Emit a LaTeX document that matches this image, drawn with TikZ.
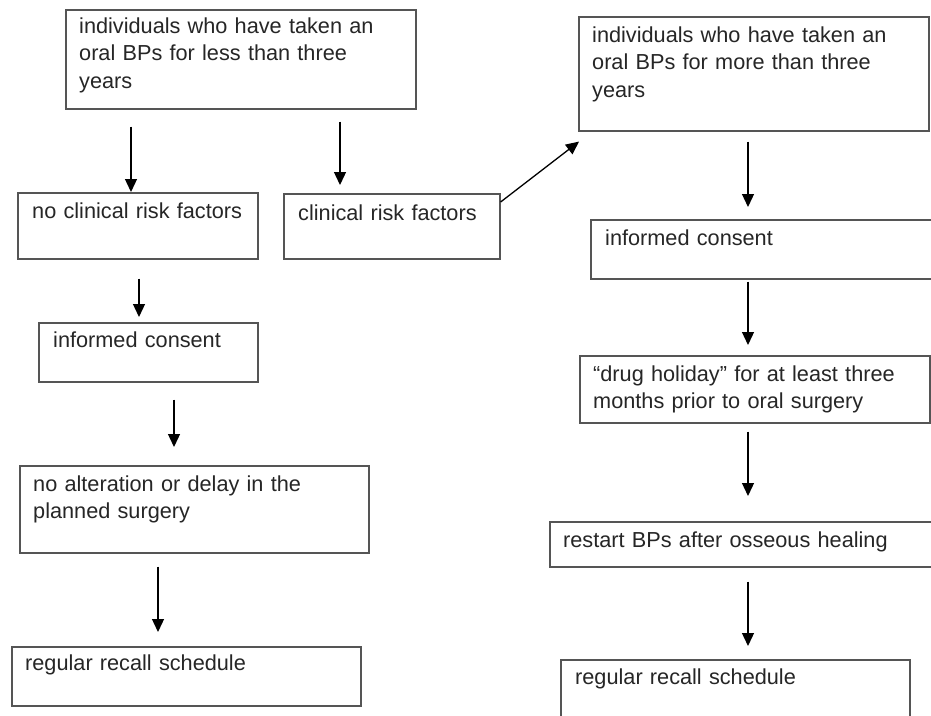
\documentclass[tikz,border=0pt]{standalone}
\usepackage{fontspec}
\setmainfont{Liberation Sans}
\usetikzlibrary{arrows.meta}
\definecolor{boxgray}{HTML}{555555}
\definecolor{txtgray}{HTML}{262626}
\begin{document}
\begin{tikzpicture}[x=1pt, y=-1pt,
    box/.style={draw=boxgray, line width=1.6pt, anchor=north west, inner sep=0pt},
    txt/.style={anchor=base west, align=left, text width=340pt, inner sep=0pt,
        text=txtgray, font=\fontsize{21.7}{27.5}\selectfont},
    arr/.style={line width=1.3pt, -{Triangle[length=13pt,width=12pt]}}]
        % Cadre
        \fill[white] (0,0) rectangle (931,715);
        \clip (0,0) rectangle (931,715);
        % Moins de trois ans
        \node[box, minimum width=350pt, minimum height=99pt] (lessthree) at (65,9) {};
        \node[txt] (lessthree-t) at ([shift={(14pt,-24pt)}]lessthree.north west)
            {individuals who have taken an\\ oral BPs for less than three\\ years};
        % Pas de facteurs de risque
        \node[box, minimum width=240pt, minimum height=66pt] (nocrf) at (17,192) {};
        \node[txt] (nocrf-t) at ([shift={(15pt,-26pt)}]nocrf.north west) {no clinical risk factors};
        % Facteurs de risque
        \node[box, minimum width=216pt, minimum height=65pt] (crf) at (283,193) {};
        \node[txt] (crf-t) at ([shift={(15pt,-27pt)}]crf.north west) {clinical risk factors};
        % Plus de trois ans
        \node[box, minimum width=350pt, minimum height=114pt] (morethree) at (578,16) {};
        \node[txt] (morethree-t) at ([shift={(14pt,-26pt)}]morethree.north west)
            {individuals who have taken an\\ oral BPs for more than three\\ years};
        % Consentement (gauche)
        \node[box, minimum width=219pt, minimum height=59pt] (consentL) at (38,322) {};
        \node[txt] (consentL-t) at ([shift={(15pt,-25pt)}]consentL.north west) {informed consent};
        % Chirurgie prevue
        \node[box, minimum width=349pt, minimum height=87pt] (noalt) at (19,465) {};
        \node[txt] (noalt-t) at ([shift={(14pt,-26pt)}]noalt.north west)
            {no alteration or delay in the\\ planned surgery};
        % Suivi (gauche)
        \node[box, minimum width=349pt, minimum height=59pt] (recallL) at (11,646) {};
        \node[txt] (recallL-t) at ([shift={(14pt,-24pt)}]recallL.north west) {regular recall schedule};
        % Consentement (droite)
        \node[box, minimum width=360pt, minimum height=59pt] (consentR) at (590,219) {};
        \node[txt] (consentR-t) at ([shift={(15pt,-26pt)}]consentR.north west) {informed consent};
        % Pause
        \node[box, minimum width=350pt, minimum height=67pt] (drug) at (579,355) {};
        \node[txt] (drug-t) at ([shift={(14pt,-26pt)}]drug.north west)
            {``drug holiday'' for at least three\\ months prior to oral surgery};
        % Reprise
        \node[box, minimum width=400pt, minimum height=45pt] (restart) at (549,521) {};
        \node[txt] (restart-t) at ([shift={(14pt,-26pt)}]restart.north west)
            {restart BPs after osseous healing};
        % Suivi (droite)
        \node[box, minimum width=349pt, minimum height=75pt] (recallR) at (560,659) {};
        \node[txt] (recallR-t) at ([shift={(15pt,-25pt)}]recallR.north west) {regular recall schedule};
        % Fleches gauche
        \draw[arr, shorten <=17pt] ([xshift=66pt]lessthree.south west) -- ([xshift=114pt]nocrf.north west);
        \draw[arr, shorten <=12pt, shorten >=8pt] ([xshift=275pt]lessthree.south west) -- ([xshift=57pt]crf.north west);
        \draw[arr, shorten <=19pt, shorten >=5pt] ([xshift=122pt]nocrf.south west) -- ([xshift=101pt]consentL.north west);
        \draw[arr, shorten <=17pt, shorten >=18pt] ([xshift=136pt]consentL.south west) -- ([xshift=155pt]noalt.north west);
        \draw[arr, shorten <=13pt, shorten >=14pt] ([xshift=139pt]noalt.south west) -- ([xshift=147pt]recallL.north west);
        % Fleche oblique
        \draw[arr] ([yshift=-9pt]crf.north east) -- ([shift={(1pt,-10pt)}]morethree.south west);
        % Fleches droite
        \draw[arr, shorten <=10pt, shorten >=12pt] ([xshift=170pt]morethree.south west) -- ([xshift=158pt]consentR.north west);
        \draw[arr, shorten <=2pt, shorten >=10pt] ([xshift=158pt]consentR.south west) -- ([xshift=169pt]drug.north west);
        \draw[arr, shorten <=8pt, shorten >=25pt] ([xshift=169pt]drug.south west) -- ([xshift=199pt]restart.north west);
        \draw[arr, shorten <=14pt, shorten >=13pt] ([xshift=199pt]restart.south west) -- ([xshift=188pt]recallR.north west);
    \end{tikzpicture}
\end{document}
